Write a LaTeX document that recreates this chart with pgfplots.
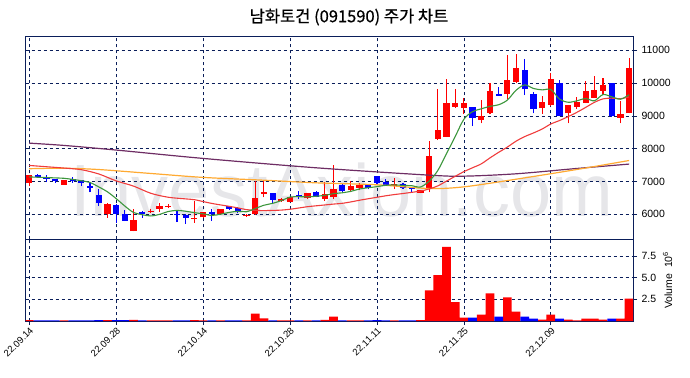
\documentclass[border=0pt]{standalone}
\usepackage{fontspec}
\setmainfont{Liberation Sans}
\newfontfamily\kr[FakeBold=0.6]{Noto Sans CJK KR}
\usepackage{pgfplots}
\usepackage{pgfplotstable}
\pgfplotsset{compat=1.18}

\definecolor{navy}{RGB}{10,30,90}
\definecolor{cred}{RGB}{255,0,0}
\definecolor{cblue}{RGB}{0,0,255}
\definecolor{ma5}{RGB}{60,150,60}
\definecolor{ma20}{RGB}{240,60,60}
\definecolor{ma60}{RGB}{255,170,50}
\definecolor{ma120}{RGB}{110,45,100}
\definecolor{wm}{RGB}{230,230,233}

\pgfplotstableread{
i o h l c
0 6950 7210 6850 7200
4 6900 7050 6900 7050
9 6000 6350 5900 6300
12 5490 6170 5480 5830
14 6080 6150 6050 6110
15 6150 6330 6080 6240
16 6220 6320 6180 6250
19 5850 6400 5740 5890
20 5910 6080 5900 6060
22 6010 6170 6000 6170
25 5950 6000 5930 5990
26 6010 7010 5990 6500
27 6620 7050 6520 6670
29 6400 6500 6380 6480
30 6370 6520 6360 6520
32 6490 6660 6480 6640
34 6470 6980 6420 6620
35 6540 7490 6470 6780
37 6730 7030 6670 6860
38 6810 6950 6730 6900
42 6850 7120 6770 6930
45 6660 6750 6640 6750
46 6780 8250 6670 7790
47 8310 9810 8260 8560
48 8370 10140 8350 9380
49 9280 9810 9250 9380
50 9250 9550 9050 9380
52 8870 9500 8770 8990
53 9080 9990 9050 9760
55 9660 10850 9530 10090
56 10020 10880 10000 10450
59 9250 9600 9070 9410
60 9330 10300 9300 10140
62 9080 9330 8770 9330
63 9280 9580 9220 9430
64 9400 10070 9390 9760
65 9550 10220 9550 9790
66 9760 10150 9640 9940
68 8950 9460 8770 9050
69 9080 10780 9080 10450
}\up

\pgfplotstableread{
i o h l c
1 7210 7230 7120 7150
2 7150 7200 6980 7080
3 7070 7090 6950 7010
5 7090 7150 6960 7030
6 7050 7060 6850 6950
7 6870 6980 6670 6810
8 6600 6780 6250 6340
10 6270 6300 5740 6000
11 6010 6120 5790 5810
13 6080 6100 5900 6000
17 6020 6120 5760 5990
18 5990 6000 5710 5880
21 6060 6170 5810 6010
23 6240 6250 6130 6160
24 6200 6230 6030 6060
28 6650 6660 6340 6450
31 6600 6720 6470 6570
33 6670 6700 6520 6540
36 6900 6920 6680 6700
39 6900 6910 6760 6810
40 7170 7180 6930 6950
41 7000 7080 6860 6900
43 6930 6950 6780 6810
44 6830 6840 6670 6770
51 9260 9280 8690 8950
54 9660 9890 9610 9620
57 10400 10750 9630 9810
58 9660 9730 9080 9210
61 9990 10090 8990 8990
67 9990 9990 8970 9000
}\down

\pgfplotstableread{
i v
0 7140
1 7130
2 7120
3 7110
4 7098
5 7064
6 7024
7 6970
8 6836
9 6686
10 6480
11 6252
12 6056
13 5988
14 5950
15 5998
16 6086
17 6118
18 6094
19 6050
20 6014
21 5966
22 6002
23 6058
24 6092
25 6078
26 6176
27 6276
28 6334
29 6418
30 6524
31 6538
32 6532
33 6550
34 6578
35 6630
36 6656
37 6700
38 6772
39 6810
40 6844
41 6884
42 6898
43 6880
44 6872
45 6832
46 7010
47 7336
48 7850
49 8372
50 8898
51 9130
52 9216
53 9292
54 9340
55 9482
56 9782
57 9946
58 9836
59 9794
60 9804
61 9512
62 9416
63 9460
64 9530
65 9460
66 9650
67 9584
68 9508
69 9646
}\maA

\pgfplotstableread{
i v
0 7490
2 7450
4 7410
6 7360
8 7230
10 7020
12 6860
14 6640
16 6520
18 6470
19 6446
20 6389
21 6332
22 6287
23 6244
24 6195
25 6143
26 6120
27 6113
28 6119
29 6128
30 6154
31 6192
32 6232
33 6259
34 6285
35 6312
36 6334
37 6378
38 6429
39 6475
40 6519
41 6564
42 6602
43 6634
44 6670
45 6708
46 6772
47 6867
48 7013
49 7158
50 7301
51 7420
52 7538
53 7720
54 7890
55 8050
56 8230
57 8370
58 8480
59 8600
60 8754
61 8859
62 8979
63 9110
64 9259
65 9411
66 9519
67 9541
68 9524
69 9578
}\maB

\pgfplotstableread{
i v
0 7390
4 7405
8 7365
14 7245
20 7125
27 7040
33 6960
40 6900
46 6786
50 6837
56 7070
63 7367
69 7640
}\maC

\pgfplotstableread{
i v
0 8170
4 8100
10 7959
20 7704
33 7418
46 7194
50 7163
56 7235
63 7398
69 7531
}\maD

\pgfplotstableread{
i v
0 0.10
4 0.08
9 0.10
12 0.12
14 0.08
15 0.08
16 0.08
19 0.10
20 0.08
22 0.08
25 0.08
26 0.86
27 0.30
29 0.08
30 0.08
32 0.08
34 0.12
35 0.50
37 0.08
38 0.08
42 0.08
45 0.10
46 3.55
47 5.30
48 8.56
49 2.18
50 0.39
52 0.74
53 3.20
55 2.73
56 1.09
59 0.16
60 0.74
62 0.16
63 0.06
64 0.27
65 0.27
66 0.16
68 0.27
69 2.60
}\upvol

\pgfplotstableread{
i v
1 0.08
2 0.08
3 0.08
5 0.08
6 0.08
7 0.08
8 0.10
10 0.10
11 0.10
13 0.08
17 0.08
18 0.08
21 0.08
23 0.08
24 0.08
28 0.08
31 0.08
33 0.08
36 0.08
39 0.08
40 0.10
41 0.08
43 0.08
44 0.08
51 0.39
54 0.50
57 0.50
58 0.27
61 0.27
67 0.27
}\downvol

\pgfplotsset{
  common/.style={
    scale only axis,
    xmin=-0.4, xmax=69.45,
    xtick={0,10,20,30,40,50,60},
    grid=major,
    major grid style={dash pattern=on 3.5bp off 2.5bp, navy, line width=0.8bp},
    axis line style={navy, line width=1bp},
    tick style={navy, line width=0.8bp},
    tick align=outside,
    major tick length=4bp,
    ytick pos=right,
    yticklabel pos=right,
    scaled y ticks=false,
    /pgf/number format/assume math mode=true,
    yticklabel style={font=\fontsize{10.5bp}{12bp}\selectfont, text=black, xshift=1bp},
  }
}

\begin{document}
\begin{tikzpicture}
\useasboundingbox (0,0) rectangle (690bp,-378bp);
\node[anchor=base west, inner sep=0, text=wm, font=\fontsize{74bp}{74bp}\selectfont] at (70bp,-216bp) {InvestAxion.com};
\node[font=\kr\fontsize{16.5bp}{19bp}\selectfont, text=black, inner sep=0] at (349bp,-17bp) {남화토건 (091590) 주가 차트};

\begin{axis}[common,
  at={(25.7bp,-36bp)}, anchor=north west,
  width=607.3bp, height=203.3bp,
  ymin=5238, ymax=11436,
  ytick={6000,7000,8000,9000,10000,11000},
  xticklabels={},
  xtick style={draw=none},
  yticklabel style={/pgf/number format/.cd, fixed, 1000 sep={}},
]
% wicks
\addplot[draw=none, mark=none, forget plot,
  error bars/.cd, y dir=plus, y explicit, error mark=none,
  error bar style={line width=1.1bp, cred}]
  table[x=i, y=l, y error expr=\thisrow{h}-\thisrow{l}] {\up};
\addplot[draw=none, mark=none, forget plot,
  error bars/.cd, y dir=plus, y explicit, error mark=none,
  error bar style={line width=1.1bp, cblue}]
  table[x=i, y=l, y error expr=\thisrow{h}-\thisrow{l}] {\down};
% bodies
\addplot[draw=none, mark=none, forget plot,
  error bars/.cd, y dir=plus, y explicit, error mark=none,
  error bar style={line width=6.2bp, cred}]
  table[x=i, y=o, y error expr=\thisrow{c}-\thisrow{o}] {\up};
\addplot[draw=none, mark=none, forget plot,
  error bars/.cd, y dir=plus, y explicit, error mark=none,
  error bar style={line width=6.2bp, cblue}]
  table[x=i, y=c, y error expr=\thisrow{o}-\thisrow{c}] {\down};
% moving averages
\addplot[ma120, line width=1.2bp, smooth, mark=none] table[x=i, y=v] {\maD};
\addplot[ma60, line width=1.2bp, smooth, mark=none] table[x=i, y=v] {\maC};
\addplot[ma20, line width=1.1bp, smooth, mark=none] table[x=i, y=v] {\maB};
\addplot[ma5, line width=1.1bp, smooth, mark=none] table[x=i, y=v] {\maA};
\end{axis}

\begin{axis}[common,
  at={(25.7bp,-239.3bp)}, anchor=north west,
  width=607.3bp, height=81.7bp,
  ymin=0, ymax=9.44,
  ytick={2.5,5,7.5},
  yticklabel style={/pgf/number format/.cd, fixed, fixed zerofill, precision=1},
  xtick pos=bottom,
  xticklabels={22.09.14,22.09.28,22.10.14,22.10.28,22.11.11,22.11.25,22.12.09},
  xticklabel style={rotate=45, anchor=north east, font=\fontsize{9.5bp}{11bp}\selectfont, inner sep=1bp},
  ylabel={Volume\ \ 10\textsuperscript{6}},
  ylabel style={font=\fontsize{10.5bp}{12bp}\selectfont},
]
\addplot[ybar, bar width=1, bar shift=0pt, fill=cred, draw=none] table[x=i, y=v] {\upvol};
\addplot[ybar, bar width=1, bar shift=0pt, fill=cblue, draw=none] table[x=i, y=v] {\downvol};
\end{axis}
\end{tikzpicture}
\end{document}
